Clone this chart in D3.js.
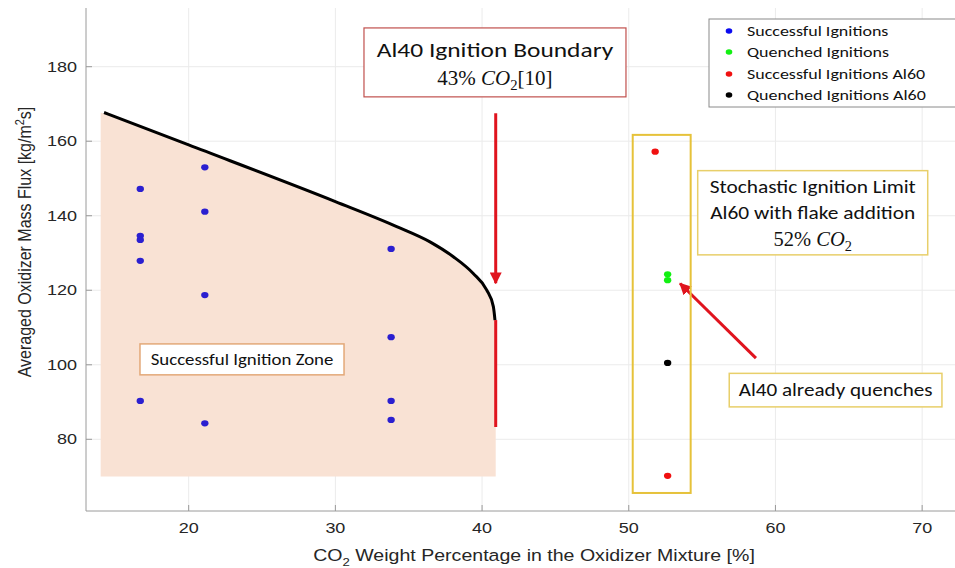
<!DOCTYPE html>
<html>
<head>
<meta charset="utf-8">
<script src="https://cdn.jsdelivr.net/npm/d3@7"></script>
<style>
  body { margin: 0; background: #fff; }
  svg { display: block; }
</style>
</head>
<body>
<div class="chart"></div>
<script>
// CO2 % and mass flux values
const successX = [16.7, 16.7, 16.7, 16.7, 16.7, 21.1, 21.1, 21.1, 21.1, 33.8, 33.8, 33.8, 33.8];
const successY = [147.2, 134.6, 133.5, 127.9, 90.3, 153.0, 141.1, 118.7, 84.3, 131.1, 107.4, 90.3, 85.2];
const quenchX = [52.65, 52.65];
const quenchY = [124.3, 122.7];
const al60SuccessX = [51.8, 52.65];
const al60SuccessY = [157.2, 70.2];
const al60QuenchX = [52.65];
const al60QuenchY = [100.5];

// Al40 ignition boundary curve
const boundaryX = [14.23, 20.0, 30.0, 34.18, 36.45, 38.04, 39.4, 40.31, 40.77, 40.88];
const boundaryY = [167.7, 159.0, 143.8, 137.1, 133.0, 129.0, 124.5, 120.1, 115.6, 112.0];
const zoneLeft = 14.0, zoneRight = 40.93, zoneBottom = 70;

const xTicks = [20, 30, 40, 50, 60, 70];
const yTicks = [80, 100, 120, 140, 160, 180];

const legendLabels = ["Successful Ignitions", "Quenched Ignitions", "Successful Ignitions Al60", "Quenched Ignitions Al60"];
const legendColors = ["#0b0bf0", "#12f012", "#f01010", "#000000"];

const W = 955, H = 568;
const pLeft = 86, pRight = 955, pTop = 8, pBottom = 511;
const stretch = 1.2; // the source picture is wider than tall, text looks stretched

const svg = d3.select(".chart").append("svg")
  .attr("width", W)
  .attr("height", H);

const x = d3.scaleLinear().domain([13, 72.24]).range([pLeft, pRight]);
const y = d3.scaleLinear().domain([60.76, 195.75]).range([pBottom, pTop]);

// text helper: anchored at (px,py), stretched horizontally
function txt(px, py, anchor, family, size, color, sx = stretch) {
  return svg.append("g")
    .attr("transform", `translate(${px},${py}) scale(${sx},1)`)
    .append("text")
    .attr("text-anchor", anchor)
    .attr("font-family", family)
    .attr("font-size", size)
    .attr("fill", color);
}

// grid
svg.append("g").selectAll("line").data(xTicks).join("line")
  .attr("x1", d => x(d)).attr("x2", d => x(d))
  .attr("y1", pTop).attr("y2", pBottom)
  .attr("stroke", "#ebebeb");
svg.append("g").selectAll("line").data(yTicks).join("line")
  .attr("x1", pLeft).attr("x2", pRight)
  .attr("y1", d => y(d)).attr("y2", d => y(d))
  .attr("stroke", "#ebebeb");

// shaded zone + boundary
const pts = boundaryX.map((v, i) => ({ x: v, y: boundaryY[i] }));
const zonePts = [{ x: zoneLeft, y: boundaryY[0] }].concat(pts.slice(1, -1), [{ x: zoneRight, y: boundaryY[boundaryY.length - 1] }]);
svg.append("path")
  .datum(zonePts)
  .attr("fill", "#f9e2d4")
  .attr("d", d3.area().x(d => x(d.x)).y0(y(zoneBottom)).y1(d => y(d.y)).curve(d3.curveMonotoneX));

svg.append("path")
  .datum(pts)
  .attr("fill", "none")
  .attr("stroke", "#000")
  .attr("stroke-width", 3)
  .attr("d", d3.line().x(d => x(d.x)).y(d => y(d.y)).curve(d3.curveMonotoneX));

// red marker line under the boundary
svg.append("line")
  .attr("x1", x(40.93)).attr("x2", x(40.93))
  .attr("y1", y(112)).attr("y2", y(83.3))
  .attr("stroke", "#e0141e").attr("stroke-width", 3);

// arrows
svg.append("defs").append("marker")
  .attr("id", "head")
  .attr("viewBox", "0 0 10 10")
  .attr("refX", 9).attr("refY", 5)
  .attr("markerWidth", 4).attr("markerHeight", 4)
  .attr("markerUnits", "strokeWidth")
  .attr("orient", "auto")
  .append("path").attr("d", "M0,0L10,5L0,10Z").attr("fill", "#e0141e");

function arrow(x1, y1, x2, y2) {
  svg.append("line")
    .attr("x1", x(x1)).attr("y1", y(y1))
    .attr("x2", x(x2)).attr("y2", y(y2))
    .attr("stroke", "#e0141e").attr("stroke-width", 3)
    .attr("marker-end", "url(#head)");
}
arrow(40.93, 167.5, 40.93, 121.9);
arrow(58.67, 101.8, 53.5, 121.8);

// yellow frame around Al60 points
svg.append("rect")
  .attr("x", x(50.27)).attr("y", y(161.7))
  .attr("width", x(54.22) - x(50.27)).attr("height", y(65.6) - y(161.7))
  .attr("fill", "none").attr("stroke", "#e6c23a").attr("stroke-width", 2);

// points
function dots(xs, ys, color) {
  svg.append("g").selectAll("ellipse").data(xs).join("ellipse")
    .attr("cx", d => x(d))
    .attr("cy", (d, i) => y(ys[i]))
    .attr("rx", 3.7).attr("ry", 3.1)
    .attr("fill", color);
}
dots(successX, successY, "#2b1fd0");
dots(quenchX, quenchY, "#12f012");
dots(al60SuccessX, al60SuccessY, "#f01010");
dots(al60QuenchX, al60QuenchY, "#000");

// axes
svg.append("line").attr("x1", pLeft).attr("x2", pLeft).attr("y1", pTop).attr("y2", pBottom).attr("stroke", "#9a9a9a");
svg.append("line").attr("x1", pLeft).attr("x2", pRight).attr("y1", pBottom).attr("y2", pBottom).attr("stroke", "#9a9a9a");

svg.append("g").selectAll("line").data(xTicks).join("line")
  .attr("x1", d => x(d)).attr("x2", d => x(d))
  .attr("y1", pBottom).attr("y2", pBottom - 6)
  .attr("stroke", "#9a9a9a");
svg.append("g").selectAll("line").data(yTicks).join("line")
  .attr("x1", pLeft).attr("x2", pLeft + 6)
  .attr("y1", d => y(d)).attr("y2", d => y(d))
  .attr("stroke", "#9a9a9a");

const helv = "'Liberation Sans', Arial, sans-serif";
xTicks.forEach(d => txt(x(d), 533, "middle", helv, 15, "#262626").text(d));
yTicks.forEach(d => txt(pLeft - 9, y(d) + 5, "end", helv, 15, "#262626").text(d));

// axis titles
const xt = txt(534, 561, "middle", helv, 16.3, "#262626");
xt.append("tspan").text("CO");
xt.append("tspan").attr("font-size", 11).attr("dy", 5).text("2");
xt.append("tspan").attr("dy", -5).text(" Weight Percentage in the Oxidizer Mixture [%]");

const yt = svg.append("text")
  .attr("transform", "translate(31,242) rotate(-90) scale(1,1.2)")
  .attr("text-anchor", "middle")
  .attr("font-family", helv)
  .attr("font-size", 16)
  .attr("fill", "#262626");
yt.append("tspan").text("Averaged Oxidizer Mass Flux [kg/m");
yt.append("tspan").attr("font-size", 11).attr("dy", -6).text("2");
yt.append("tspan").attr("dy", 6).text("s]");

// annotation boxes
const calibri = "Carlito, Lato, 'Open Sans', sans-serif";
const mathFont = "'Liberation Serif', 'DejaVu Serif', serif";

function box(x0, y0, x1, y1, stroke, sw) {
  svg.append("rect")
    .attr("x", x(x0)).attr("y", y(y0))
    .attr("width", x(x1) - x(x0)).attr("height", y(y1) - y(y0))
    .attr("fill", "#fff").attr("stroke", stroke).attr("stroke-width", sw);
  return (x(x0) + x(x1)) / 2;
}

function co2Line(cx, by, prefix, suffix, size) {
  const t = txt(cx, by, "middle", mathFont, size, "#111", 1);
  t.append("tspan").text(prefix);
  t.append("tspan").attr("font-style", "italic").text("CO");
  t.append("tspan").attr("font-size", size * 0.7).attr("dy", size * 0.25).text("2");
  if (suffix) t.append("tspan").attr("dy", -size * 0.25).text(suffix);
}

function label(cx, by, s, size) {
  txt(cx, by, "middle", calibri, size, "#111").text(s);
}

let cx = box(31.95, 190.4, 49.81, 171.9, "#c0504d", 1.2);
label(cx, 57, "Al40 Ignition Boundary", 21.2);
co2Line(cx, 85, "43% ", "[10]", 21);

cx = box(16.68, 105.6, 30.59, 97.3, "#e3a878", 1.5);
label(cx, 365, "Successful Ignition Zone", 15.7);

cx = box(54.70, 152.1, 70.38, 129.5, "#e8cf6a", 1.5);
label(cx, 193, "Stochastic Ignition Limit", 17.8);
label(cx, 219, "Al60 with flake addition", 17.8);
co2Line(cx, 246, "52% ", "", 20.5);

cx = box(56.85, 97.7, 71.35, 88.7, "#e8cf6a", 1.5);
label(cx, 396, "Al40 already quenches", 17.6);

// legend
const lg = svg.append("g");
lg.append("rect")
  .attr("x", 709).attr("y", 19).attr("width", 260).attr("height", 88)
  .attr("fill", "#fff").attr("stroke", "#8a8a8a").attr("stroke-width", 1);
const rows = [30, 51, 73, 94];
legendLabels.forEach((t, i) => {
  lg.append("ellipse").attr("cx", 729).attr("cy", rows[i] + 1).attr("rx", 3.3).attr("ry", 2.8).attr("fill", legendColors[i]);
  txt(747, rows[i] + 6, "start", calibri, 15, "#111").text(t);
});
</script>
</body>
</html>
